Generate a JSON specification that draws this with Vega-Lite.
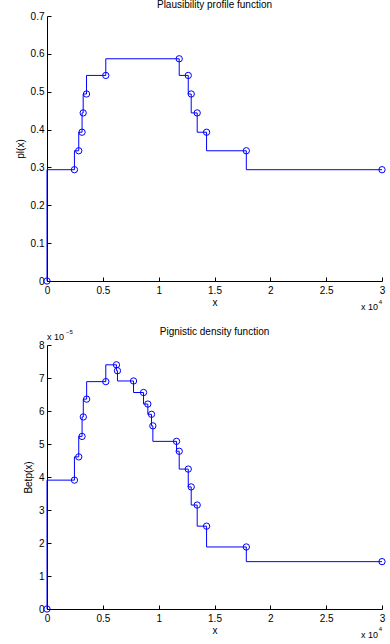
{
  "$schema": "https://vega.github.io/schema/vega-lite/v6.json",
  "background": "white",
  "padding": {"left": 15, "top": 0, "right": 8, "bottom": 0},
  "spacing": 15,
  "config": {
    "font": "Liberation Sans",
    "view": {"stroke": null},
    "title": {"fontSize": 10, "fontWeight": "normal", "color": "#000", "offset": 4, "font": "Liberation Sans"},
    "axis": {
      "grid": false, "domainColor": "#000", "tickColor": "#000", "tickSize": -4,
      "labelFontSize": 10, "labelColor": "#000", "labelFont": "Liberation Sans",
      "titleFontSize": 10, "titleFontWeight": "normal", "titleColor": "#000", "titleFont": "Liberation Sans",
      "domainWidth": 1, "tickWidth": 1, "labelOverlap": false, "labelFlush": false
    }
  },
  "datasets": {
    "pl": [
      {"x": 0, "v": 0}, {"x": 2457, "v": 0.294}, {"x": 2843, "v": 0.344}, {"x": 3140, "v": 0.393},
      {"x": 3240, "v": 0.444}, {"x": 3540, "v": 0.494}, {"x": 5265, "v": 0.543}, {"x": 11840, "v": 0.587},
      {"x": 12650, "v": 0.543}, {"x": 12915, "v": 0.494}, {"x": 13450, "v": 0.444}, {"x": 14290, "v": 0.393},
      {"x": 17850, "v": 0.344}, {"x": 30000, "v": 0.294}
    ],
    "betp": [
      {"x": 0, "v": 0}, {"x": 2457, "v": 3.905e-5}, {"x": 2843, "v": 4.61e-5}, {"x": 3140, "v": 5.23e-5},
      {"x": 3250, "v": 5.82e-5}, {"x": 3550, "v": 6.36e-5}, {"x": 5265, "v": 6.89e-5}, {"x": 6220, "v": 7.40e-5},
      {"x": 6310, "v": 7.22e-5}, {"x": 7750, "v": 6.91e-5}, {"x": 8645, "v": 6.56e-5}, {"x": 9030, "v": 6.21e-5},
      {"x": 9360, "v": 5.90e-5}, {"x": 9480, "v": 5.55e-5}, {"x": 11600, "v": 5.08e-5}, {"x": 11840, "v": 4.78e-5},
      {"x": 12650, "v": 4.24e-5}, {"x": 12915, "v": 3.70e-5}, {"x": 13450, "v": 3.15e-5}, {"x": 14290, "v": 2.51e-5},
      {"x": 17850, "v": 1.88e-5}, {"x": 30000, "v": 1.435e-5}
    ],
    "one": [{"k": 1}]
  },
  "vconcat": [
    {
      "width": 335, "height": 265,
      "title": {"text": "Plausibility profile function", "offset": 1},
      "layer": [
        {
          "data": {"name": "pl"},
          "mark": {"type": "line", "interpolate": "step-before", "color": "#0000ff", "strokeWidth": 1, "clip": false},
          "encoding": {
            "x": {"field": "x", "type": "quantitative", "scale": {"domain": [0, 30000], "nice": false},
              "axis": {"values": [0, 5000, 10000, 15000, 20000, 25000, 30000], "tickCount": 7, "labelExpr": "format(datum.value/10000, '~g')", "title": "x", "labelPadding": 8, "titlePadding": 2, "labelOverlap": false}},
            "y": {"field": "v", "type": "quantitative", "scale": {"domain": [0, 0.7], "nice": false},
              "axis": {"values": [0, 0.1, 0.2, 0.3, 0.4, 0.5, 0.6, 0.7], "tickCount": 8, "labelExpr": "datum.value == 0 ? '0' : format(datum.value, '.1f')", "title": "pl(x)", "labelPadding": 7, "titlePadding": 5, "labelOverlap": false}}
          }
        },
        {
          "data": {"name": "pl"},
          "mark": {"type": "point", "shape": "circle", "filled": false, "color": "#0000ff", "size": 40, "strokeWidth": 1, "opacity": 1, "clip": false},
          "encoding": {
            "x": {"field": "x", "type": "quantitative"},
            "y": {"field": "v", "type": "quantitative"}
          }
        },
        {
          "data": {"name": "one"},
          "mark": {"type": "text", "text": "x 10", "align": "right", "baseline": "middle", "fontSize": 9, "dx": -4, "dy": 26, "color": "#000"},
          "encoding": {"x": {"datum": 30000}, "y": {"datum": 0}}
        },
        {
          "data": {"name": "one"},
          "mark": {"type": "text", "text": "4", "align": "right", "baseline": "middle", "fontSize": 6, "dx": 0, "dy": 21, "color": "#000"},
          "encoding": {"x": {"datum": 30000}, "y": {"datum": 0}}
        }
      ]
    },
    {
      "width": 335, "height": 264,
      "title": {"text": "Pignistic density function", "offset": -8},
      "layer": [
        {
          "data": {"name": "betp"},
          "mark": {"type": "line", "interpolate": "step-before", "color": "#0000ff", "strokeWidth": 1, "clip": false},
          "encoding": {
            "x": {"field": "x", "type": "quantitative", "scale": {"domain": [0, 30000], "nice": false},
              "axis": {"values": [0, 5000, 10000, 15000, 20000, 25000, 30000], "tickCount": 7, "labelExpr": "format(datum.value/10000, '~g')", "title": "x", "labelPadding": 8, "titlePadding": 2, "labelOverlap": false}},
            "y": {"field": "v", "type": "quantitative", "scale": {"domain": [0, 8e-5], "nice": false},
              "axis": {"values": [0, 1e-5, 2e-5, 3e-5, 4e-5, 5e-5, 6e-5, 7e-5, 8e-5], "tickCount": 9, "labelExpr": "format(datum.value*100000, '.0f')", "title": "Betp(x)", "labelPadding": 7, "titlePadding": 5, "labelOverlap": false}}
          }
        },
        {
          "data": {"name": "betp"},
          "mark": {"type": "point", "shape": "circle", "filled": false, "color": "#0000ff", "size": 40, "strokeWidth": 1, "opacity": 1, "clip": false},
          "encoding": {
            "x": {"field": "x", "type": "quantitative"},
            "y": {"field": "v", "type": "quantitative"}
          }
        },
        {
          "data": {"name": "one"},
          "mark": {"type": "text", "text": "x 10", "align": "right", "baseline": "middle", "fontSize": 9, "dx": -4, "dy": 26, "color": "#000"},
          "encoding": {"x": {"datum": 30000}, "y": {"datum": 0}}
        },
        {
          "data": {"name": "one"},
          "mark": {"type": "text", "text": "4", "align": "right", "baseline": "middle", "fontSize": 6, "dx": 0, "dy": 20, "color": "#000"},
          "encoding": {"x": {"datum": 30000}, "y": {"datum": 0}}
        },
        {
          "data": {"name": "one"},
          "mark": {"type": "text", "text": "x 10", "align": "left", "baseline": "middle", "fontSize": 9, "dx": 0, "dy": -8, "color": "#000"},
          "encoding": {"x": {"datum": 0}, "y": {"datum": 8e-5}}
        },
        {
          "data": {"name": "one"},
          "mark": {"type": "text", "text": "−5", "align": "left", "baseline": "middle", "fontSize": 6, "dx": 19, "dy": -13, "color": "#000"},
          "encoding": {"x": {"datum": 0}, "y": {"datum": 8e-5}}
        }
      ]
    }
  ]
}
